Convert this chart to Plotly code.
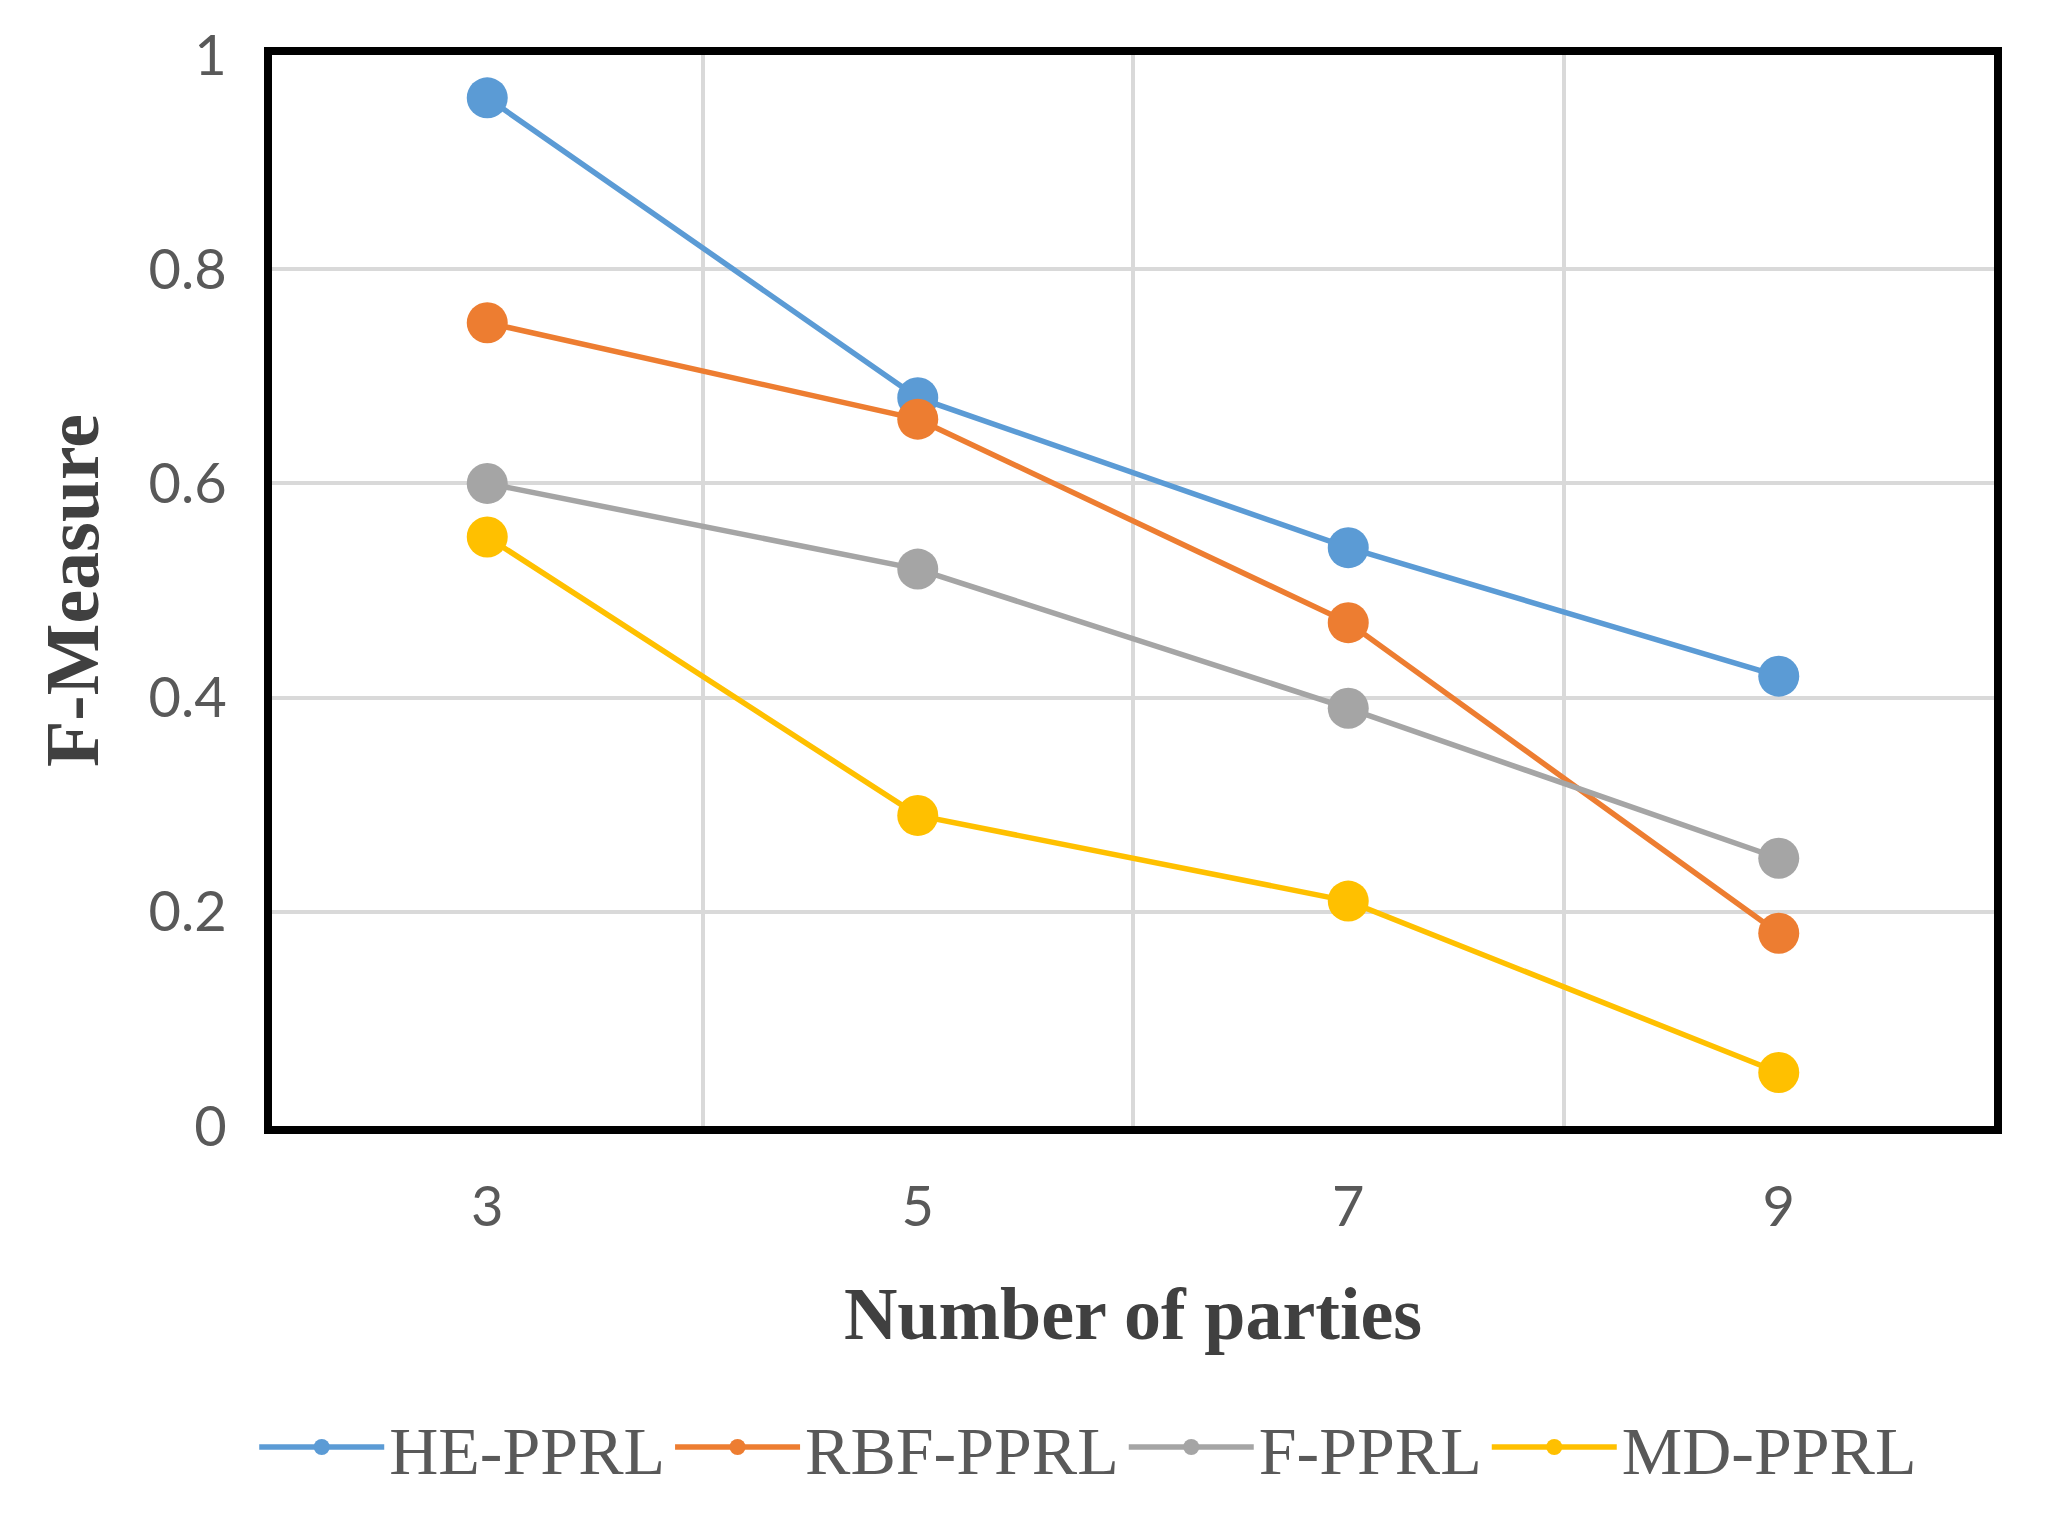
import plotly.graph_objects as go

parties = ["3", "5", "7", "9"]
he_pprl = [0.96, 0.68, 0.54, 0.42]
rbf_pprl = [0.75, 0.66, 0.47, 0.18]
f_pprl = [0.60, 0.52, 0.39, 0.25]
md_pprl = [0.55, 0.29, 0.21, 0.05]

series_names = ["HE-PPRL", "RBF-PPRL", "F-PPRL", "MD-PPRL"]
series_vals = [he_pprl, rbf_pprl, f_pprl, md_pprl]
colors = ["#5B9BD5", "#ED7D31", "#A5A5A5", "#FFC000"]

fig = go.Figure()
for name, vals, c in zip(series_names, series_vals, colors):
    fig.add_trace(go.Scatter(
        x=parties, y=vals, name=name, mode="lines+markers",
        line=dict(color=c, width=5.5),
        marker=dict(color=c, size=41),
    ))

fig.update_layout(
    width=2051, height=1528,
    paper_bgcolor="white", plot_bgcolor="white",
    margin=dict(l=264, r=65, t=47, b=410),
    font=dict(family="Liberation Serif", color="#595959"),
    legend=dict(
        orientation="h", x=0.474, xanchor="center", y=-0.30, yanchor="middle",
        font=dict(family="Liberation Serif", size=68, color="#595959"),
        itemwidth=125, tracegroupgap=0,
    ),
    showlegend=True,
)

fig.update_xaxes(
    type="category", tickson="boundaries", range=[-0.5, 3.5],
    showgrid=True, gridcolor="#D9D9D9", gridwidth=4,
    showline=True, linecolor="black", linewidth=8, mirror=True,
    ticks="", ticklabelstandoff=25,
    tickfont=dict(family="Lato", size=56, color="#595959"),
    title=dict(text="<b>Number of parties</b>", standoff=53,
               font=dict(family="Liberation Serif", size=74, color="#404040")),
)
fig.update_yaxes(
    range=[0, 1], tickvals=[0, 0.2, 0.4, 0.6, 0.8, 1],
    ticktext=["0", "0.2", "0.4", "0.6", "0.8", "1"],
    showgrid=True, gridcolor="#D9D9D9", gridwidth=4,
    showline=True, linecolor="black", linewidth=8, mirror=True,
    zeroline=False,
    ticks="", ticklabelstandoff=26,
    tickfont=dict(family="Lato", size=56, color="#595959"),
    title=dict(text="<b>F-Measure</b>", standoff=28,
               font=dict(family="Liberation Serif", size=76, color="#404040")),
)

fig.write_html("out.html")
